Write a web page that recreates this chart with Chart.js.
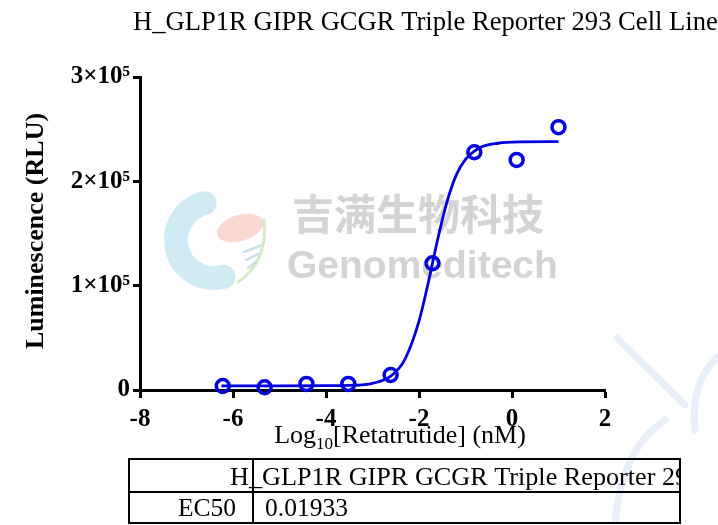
<!DOCTYPE html>
<html>
<head>
<meta charset="utf-8">
<script src="https://cdn.jsdelivr.net/npm/chart.js@4.4.1/dist/chart.umd.min.js"></script>
<style>
  html, body { margin: 0; padding: 0; background: #fff; }
  #wrap { width: 718px; height: 525px; }
</style>
</head>
<body>
<div id="wrap"><canvas id="chart" width="718" height="525"></canvas></div>
<script>
// ---- data ----
const chartTitle = 'H_GLP1R GIPR GCGR Triple Reporter 293 Cell Line';
const yTitle = 'Luminescence (RLU)';
const xTitleParts = ['Log', '10', '[Retatrutide] (nM)'];

// log10 of the concentration (nM), 8-fold dilutions from 10 nM
const logConc = [-6.22, -5.32, -4.42, -3.52, -2.61, -1.71, -0.81, 0.10, 1.00];
const lum = [3800, 2600, 5800, 5800, 14400, 121500, 227900, 220500, 251900];

// fitted curve
const fitX = [-6.25, -5.0, -4.0, -3.5, -3.0, -2.6, -2.3, -2.0, -1.8, -1.6, -1.4, -1.2, -1.0, -0.7, -0.3, 0.2, 1.0];
const fitY = [4000, 4000, 4100, 4400, 6400, 13500, 29700, 66000, 103000, 144000, 180000, 206000, 221000, 232000, 236500, 237800, 238000];

const yTickLabels = { 0: '0', 100000: '1×10⁵', 200000: '2×10⁵', 300000: '3×10⁵' };

const tableRows = [
  ['H', '_GLP1R GIPR GCGR Triple Reporter 29'],
  ['EC50', '0.01933']
];

const blue = '#0000e0';
const serif = '"Liberation Serif", "Times New Roman", serif';

// watermark, title, axis titles and the results table
const decor = {
  id: 'decor',
  beforeDatasetsDraw(chart) {
    const ctx = chart.ctx;
    ctx.save();
    // logo
    ctx.lineCap = 'round';
    ctx.strokeStyle = 'rgba(170, 218, 234, 0.55)';
    ctx.lineWidth = 24;
    ctx.beginPath();
    ctx.arc(214, 240, 38, 1.42 * Math.PI, 0.42 * Math.PI, true);
    ctx.stroke();
    ctx.fillStyle = 'rgba(246, 182, 170, 0.55)';
    ctx.beginPath();
    ctx.ellipse(240, 228, 24, 13, -0.3, 0, 2 * Math.PI);
    ctx.fill();
    ctx.strokeStyle = 'rgba(195, 226, 172, 0.7)';
    ctx.lineWidth = 3;
    ctx.beginPath();
    ctx.moveTo(264, 220);
    ctx.quadraticCurveTo(268, 262, 238, 282);
    ctx.stroke();
    ctx.strokeStyle = 'rgba(175, 208, 226, 0.7)';
    ctx.lineWidth = 2.5;
    for (let i = 0; i < 3; i++) {
      ctx.beginPath();
      ctx.moveTo(244 + i * 2, 252 + i * 8);
      ctx.lineTo(260 - i * 2, 246 + i * 8);
      ctx.stroke();
    }
    // faint big arcs at the right
    ctx.strokeStyle = 'rgba(212, 223, 244, 0.5)';
    ctx.lineWidth = 7;
    ctx.beginPath();
    ctx.moveTo(617, 338);
    ctx.lineTo(685, 405);
    ctx.stroke();
    ctx.beginPath();
    ctx.moveTo(720, 355);
    ctx.quadraticCurveTo(690, 380, 695, 430);
    ctx.stroke();
    ctx.beginPath();
    ctx.moveTo(615, 525);
    ctx.quadraticCurveTo(620, 450, 665, 420);
    ctx.stroke();
    // watermark text
    ctx.fillStyle = 'rgba(205, 205, 205, 0.85)';
    ctx.textBaseline = 'alphabetic';
    ctx.textAlign = 'left';
    ctx.font = 'bold 42px "Noto Sans CJK SC"';
    ctx.fillText('吉满生物科技', 292, 230);
    ctx.font = 'bold 39px "Liberation Sans", Arial, sans-serif';
    ctx.fillText('Genomeditech', 287, 278);
    ctx.restore();
  },
  afterDraw(chart) {
    const ctx = chart.ctx;
    ctx.save();
    ctx.fillStyle = '#000';
    ctx.textBaseline = 'alphabetic';

    // chart title
    ctx.font = '26.6px ' + serif;
    ctx.textAlign = 'left';
    ctx.fillText(chartTitle, 133, 30);

    // y title
    ctx.save();
    ctx.translate(43, 231);
    ctx.rotate(-Math.PI / 2);
    ctx.font = 'bold 26px ' + serif;
    ctx.textAlign = 'center';
    ctx.fillText(yTitle, 0, 0);
    ctx.restore();

    // x title with subscript
    ctx.font = '26px ' + serif;
    const w0 = ctx.measureText(xTitleParts[0]).width;
    const w2 = ctx.measureText(xTitleParts[2]).width;
    ctx.font = '17px ' + serif;
    const w1 = ctx.measureText(xTitleParts[1]).width;
    let x = 400 - (w0 + w1 + w2) / 2;
    ctx.font = '26px ' + serif;
    ctx.fillText(xTitleParts[0], x, 443);
    x += w0;
    ctx.font = '17px ' + serif;
    ctx.fillText(xTitleParts[1], x, 449);
    x += w1;
    ctx.font = '26px ' + serif;
    ctx.fillText(xTitleParts[2], x, 443);

    // results table
    const tL = 129, tR = 680, tT = 459, tM = 492, tB = 523, tC = 253;
    ctx.strokeStyle = '#000';
    ctx.lineWidth = 2;
    ctx.strokeRect(tL, tT, tR - tL, tB - tT);
    ctx.beginPath();
    ctx.moveTo(tL, tM); ctx.lineTo(tR, tM);
    ctx.moveTo(tC, tT); ctx.lineTo(tC, tB);
    ctx.stroke();
    ctx.font = '26.2px ' + serif;
    ctx.save();
    ctx.beginPath();
    ctx.rect(tL, tT, tR - tL - 1, tB - tT);
    ctx.clip();
    const hW = ctx.measureText(tableRows[0][0]).width;
    ctx.textAlign = 'left';
    ctx.fillText(tableRows[0][0] + tableRows[0][1], 249 - hW, 485);
    ctx.restore();
    ctx.font = '25.5px ' + serif;
    ctx.textAlign = 'right';
    ctx.fillText(tableRows[1][0], 236, 516);
    ctx.textAlign = 'left';
    ctx.fillText(tableRows[1][1], 265, 516);
    ctx.restore();
  }
};

const tickFont = { family: serif, size: 25, weight: 'bold' };

new Chart(document.getElementById('chart').getContext('2d'), {
  type: 'scatter',
  data: {
    datasets: [
      {
        label: 'fit',
        data: fitX.map((v, i) => ({ x: v, y: fitY[i] })),
        showLine: true,
        borderColor: blue,
        borderWidth: 2.8,
        pointRadius: 0,
        cubicInterpolationMode: 'monotone',
        clip: false
      },
      {
        label: 'H_GLP1R GIPR GCGR Triple Reporter 293 Cell Line',
        data: logConc.map((v, i) => ({ x: v, y: lum[i] })),
        showLine: false,
        pointStyle: 'circle',
        pointRadius: 6.5,
        pointBorderWidth: 3.5,
        pointBorderColor: blue,
        pointBackgroundColor: 'rgba(0,0,0,0)',
        clip: false
      }
    ]
  },
  options: {
    responsive: false,
    animation: false,
    devicePixelRatio: 1,
    layout: { padding: { left: 0, top: 77, right: 113, bottom: 0 } },
    scales: {
      x: {
        type: 'linear',
        min: -8,
        max: 2,
        afterFit(scale) { scale.height = 135; },
        ticks: { stepSize: 2, font: tickFont, color: '#000', padding: 7, maxRotation: 0 },
        grid: { drawOnChartArea: false, drawTicks: true, tickLength: 8, tickWidth: 3, tickColor: '#000' },
        border: { display: true, width: 3, color: '#000' }
      },
      y: {
        type: 'linear',
        min: 0,
        max: 300000,
        afterFit(scale) { scale.width = 140; },
        ticks: {
          stepSize: 100000,
          font: tickFont,
          color: '#000',
          padding: 3,
          callback: (v) => yTickLabels[v] !== undefined ? yTickLabels[v] : ''
        },
        grid: { drawOnChartArea: false, drawTicks: true, tickLength: 7, tickWidth: 3, tickColor: '#000' },
        border: { display: true, width: 3, color: '#000' }
      }
    },
    plugins: {
      legend: { display: false },
      tooltip: { enabled: false },
      title: { display: false }
    }
  },
  plugins: [decor]
});
</script>
</body>
</html>
